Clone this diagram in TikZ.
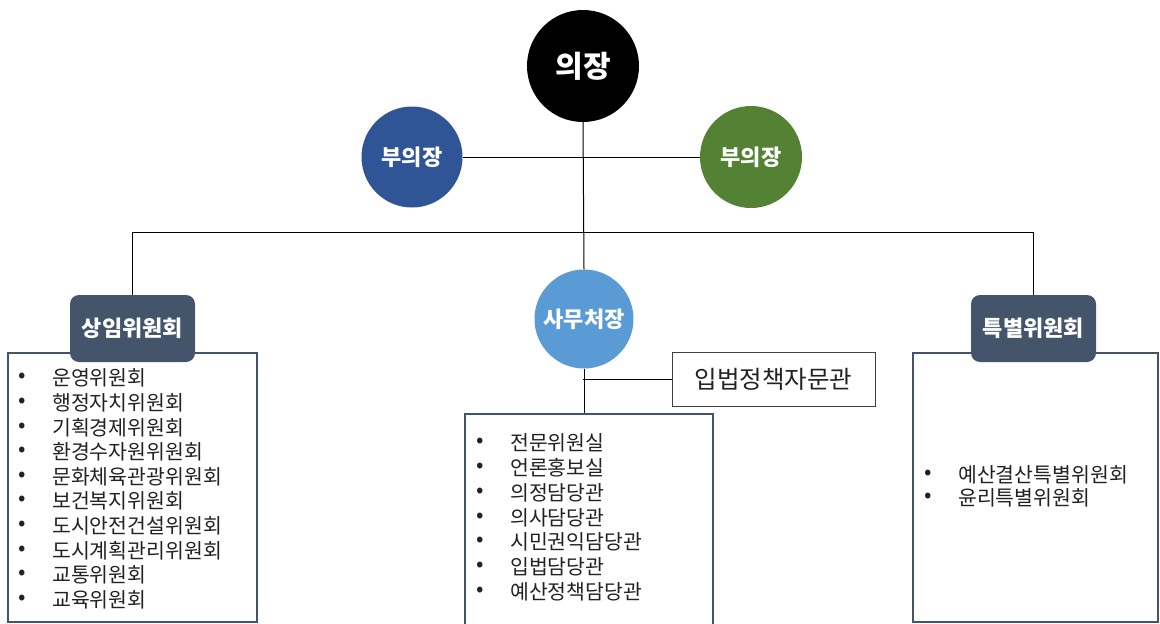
\documentclass[tikz,border=0pt]{standalone}
\usepackage{fontspec}
\setmainfont{Noto Sans CJK KR}
\definecolor{slate}{HTML}{44546A}
\definecolor{vpblue}{HTML}{2F5597}
\definecolor{vpgreen}{HTML}{548235}
\definecolor{secblue}{HTML}{5B9BD5}
\definecolor{itemtext}{HTML}{222222}
\tikzset{
  circ/.style={circle, inner sep=0pt, text=white, font=\bfseries\fontsize{22}{26}\selectfont},
  head/.style={rectangle, rounded corners=9pt, fill=slate, text=white, minimum width=125pt, minimum height=67pt, inner sep=0pt, font=\bfseries\fontsize{22}{26}\selectfont},
  listbox/.style={rectangle, draw=slate, line width=2.6pt, fill=white, inner sep=0pt},
  item/.style={anchor=west, inner sep=0pt, text=itemtext, font=\fontsize{20.5}{24}\selectfont},
  bul/.style={inner sep=0pt, text=itemtext, font=\fontsize{22}{24}\selectfont},
  conn/.style={draw=black, line width=1pt},
}
\begin{document}
\begin{tikzpicture}[x=1pt,y=-1pt]
\useasboundingbox (0,0) rectangle (1160,624);
% list boxes
\node[listbox, minimum width=249pt, minimum height=269pt] (lbox) at (132.5,487.5) {};
\node[listbox, minimum width=248pt, minimum height=216pt] (cbox) at (589,522) {};
\node[listbox, minimum width=245pt, minimum height=269pt] (rbox) at (1035.5,487.5) {};
% circles
\node[circ, fill=black, minimum size=112pt, font=\bfseries\fontsize{30}{34}\selectfont] (chair) at (583,66) {의장};
\node[circ, fill=vpblue, minimum size=101pt] (vp1) at (412,157) {부의장};
\node[circ, fill=vpgreen, minimum size=102pt] (vp2) at (751,157) {부의장};
\node[circ, fill=secblue, minimum size=99pt] (sec) at (584,319) {사무처장};
% headers
\node[head] (h1) at (132.5,328.5) {상임위원회};
\node[head] (h2) at (1033.5,328.5) {특별위원회};
% adviser
\node[rectangle, draw=black!75, line width=1pt, minimum width=203pt, minimum height=54pt, inner sep=0pt, text=itemtext, font=\fontsize{24.5}{28}\selectfont] (adv) at (773.5,379) {입법정책자문관};
% connectors
\coordinate (bus) at (583,232);
\coordinate (branch) at (583,379);
\draw[conn] (vp1.east) -- (vp2.west);
\draw[conn] (chair.south) -- (sec.north);
\draw[conn] (h1.north) -- (h1.north |- bus) -- (h2.north |- bus) -- (h2.north);
\draw[conn] (sec.south) -- (sec.south |- cbox.north);
\draw[conn] (branch) -- (adv.west);
% left items
\foreach \t [count=\i] in {운영위원회,행정자치위원회,기획경제위원회,환경수자원위원회,문화체육관광위원회,보건복지위원회,도시안전건설위원회,도시계획관리위원회,교통위원회,교육위원회}{
  \node[bul] (lb\i) at (22,{378+24.65*(\i-1)}) {•};
  \node[item] (lt\i) at (52,{378+24.65*(\i-1)}) {\t};
}
% center items
\foreach \t [count=\i] in {전문위원실,언론홍보실,의정담당관,의사담당관,시민권익담당관,입법담당관,예산정책담당관}{
  \node[bul] (cb\i) at (480,{443+24.8*(\i-1)}) {•};
  \node[item] (ct\i) at (510,{443+24.8*(\i-1)}) {\t};
}
% right items
\foreach \t [count=\i] in {예산결산특별위원회,윤리특별위원회}{
  \node[bul] (rb\i) at (928,{475+23*(\i-1)}) {•};
  \node[item] (rt\i) at (958,{475+23*(\i-1)}) {\t};
}
\end{tikzpicture}
\end{document}
